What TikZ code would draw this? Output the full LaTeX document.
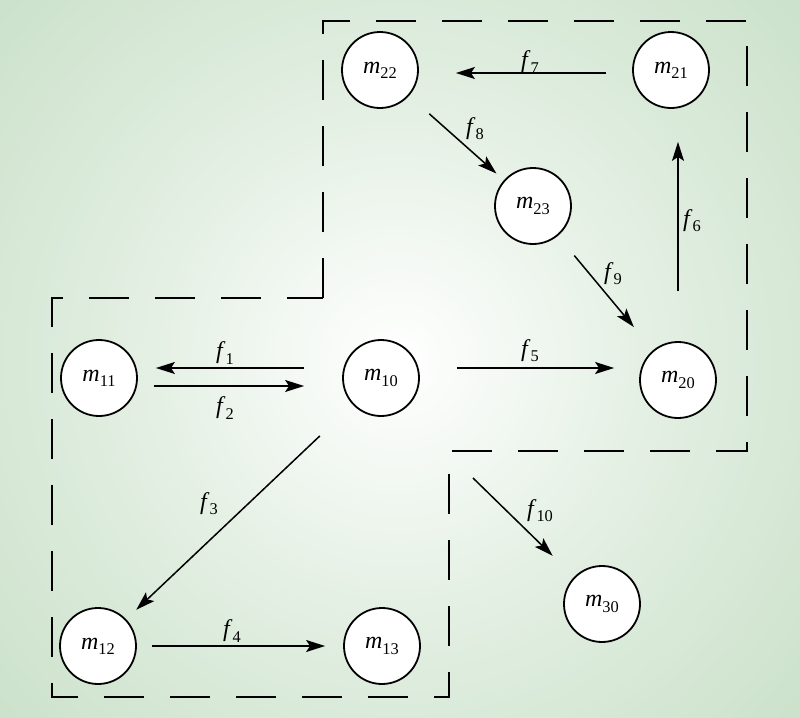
\documentclass[tikz,border=0pt]{standalone}
\usepackage{fontspec}
\setmainfont{Liberation Serif}
\usetikzlibrary{arrows.meta,calc}
\definecolor{bggreen}{HTML}{BCD9BB}
\colorlet{bgmid}{bggreen!46!white}
\pgfdeclareradialshading{bgshade}{\pgfpoint{0bp}{0bp}}{color(0bp)=(white); color(10bp)=(bgmid); color(25bp)=(bggreen); color(50bp)=(bggreen)}
\newcommand\mlab[2]{\textit{#1}\raisebox{-2.6pt}{\fontsize{8.2}{9}\selectfont #2}}
\begin{document}
\begin{tikzpicture}[x=0.5pt,y=-0.5pt,
  state/.style={circle,draw,fill=white,line width=0.9pt,minimum size=38pt,inner sep=0pt,font=\fontsize{12}{14}\selectfont},
  arr/.style={-{Stealth[length=9.5pt,width=6pt,inset=2pt]},line width=0.75pt},
  lab/.style={inner sep=0pt,font=\fontsize{12}{14}\selectfont},
  region/.style={dash pattern=on 20pt off 13pt,line width=0.75pt}]
\useasboundingbox (0,0) rectangle (800,718);
\begin{scope}
  \clip (0,0) rectangle (800,718);
  \fill[bggreen] (0,0) rectangle (800,718);
  \shade[shading=bgshade] (398,360) circle (720);
\end{scope}
% dashed region
\draw[region] (323,298) -- (323,21) -- (747,21) -- (747,451) -- (449,451) -- (449,697) -- (52,697) -- (52,298) -- cycle;
% nodes
\node[state] (m22) at (380,70) {\mlab{m}{22}};
\node[state] (m21) at (671,70) {\mlab{m}{21}};
\node[state] (m23) at (533,206) {\mlab{m}{23}};
\node[state] (m20) at (678,380) {\mlab{m}{20}};
\node[state] (m10) at (381,378) {\mlab{m}{10}};
\node[state] (m11) at (99,378) {\mlab{m}{11}};
\node[state] (m12) at (98,646) {\mlab{m}{12}};
\node[state] (m13) at (382,646) {\mlab{m}{13}};
\node[state] (m30) at (602,604) {\mlab{m}{30}};
\coordinate (s10) at (473,478);
% connectors
\draw[arr,shorten <=13pt,shorten >=18.5pt] ([yshift=-1.5pt]m21.west) -- ([yshift=-1.5pt]m21.west -| m22.east);
\draw[arr,shorten <=13.5pt,shorten >=5pt] (m22) -- (m23);
\draw[arr,shorten <=12.8pt,shorten >=15pt] (m23) -- (m20);
\draw[arr,shorten <=25pt,shorten >=16.5pt] (m20.north) -- (m20.north |- m21.south);
\draw[arr,shorten <=18.5pt,shorten >=12.5pt] ([yshift=5pt]m10.east) -- ([yshift=5pt]m10.east -| m20.west);
\draw[arr,shorten <=19pt,shorten >=9pt] ([yshift=5pt]m10.west) -- ([yshift=5pt]m10.west -| m11.east);
\draw[arr,shorten <=8pt,shorten >=19pt] ([yshift=-4pt]m11.east) -- ([yshift=-4pt]m11.east -| m10.west);
\draw[arr,shorten <=22.7pt,shorten >=6.9pt] (m10) -- (m12);
\draw[arr,shorten <=7.5pt,shorten >=9pt] (m12) -- (m13);
\draw[arr,shorten >=15pt] (s10) -- (m30);
% labels
\node[lab] (l7) at (530,62) {\mlab{f}{7}};
\node[lab] (l8) at (475,129) {\mlab{f}{8}};
\node[lab] (l6) at (692,221) {\mlab{f}{6}};
\node[lab] (l9) at (613,274) {\mlab{f}{9}};
\node[lab] (l5) at (530,351) {\mlab{f}{5}};
\node[lab] (l1) at (225,353) {\mlab{f}{1}};
\node[lab] (l2) at (225,408) {\mlab{f}{2}};
\node[lab] (l3) at (209,504) {\mlab{f}{3}};
\node[lab] (l4) at (232,631) {\mlab{f}{4}};
\node[lab] (l10) at (540,511) {\mlab{f}{10}};
\end{tikzpicture}
\end{document}
